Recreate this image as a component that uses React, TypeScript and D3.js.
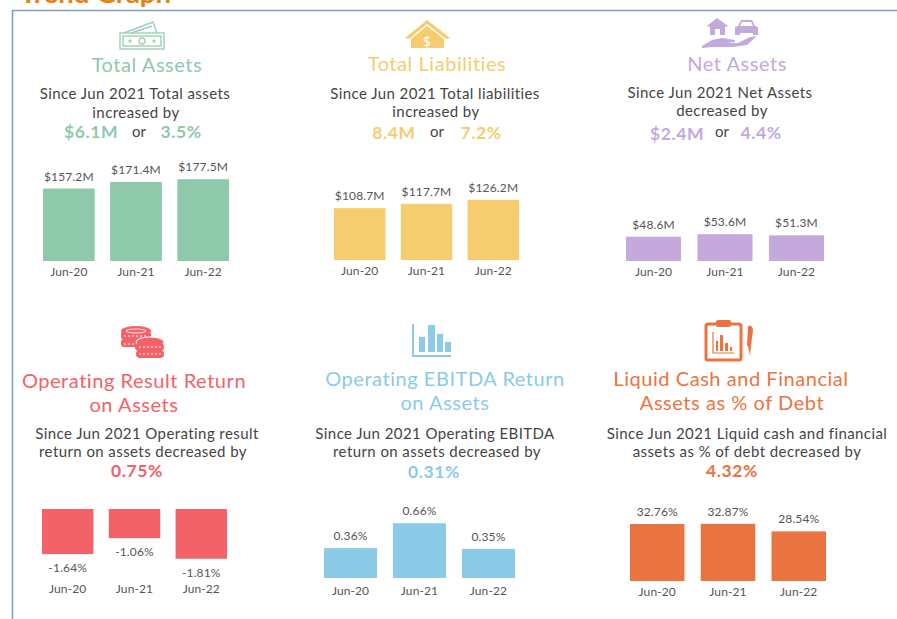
import React from "react";
import * as d3 from "d3";

const years = ["Jun-20", "Jun-21", "Jun-22"];

const totalAssets = [157.2, 171.4, 177.5];
const totalLiabilities = [108.7, 117.7, 126.2];
const netAssets = [48.6, 53.6, 51.3];
const operatingResult = [-1.64, -1.06, -1.81];
const operatingEbitda = [0.36, 0.66, 0.35];
const liquidCash = [32.76, 32.87, 28.54];

const money = (v: number) => `$${v.toFixed(1)}M`;
const pct = (v: number) => `${v.toFixed(2)}%`;

const GREEN = "#8fc9ab";
const YELLOW = "#f6cd6e";
const PURPLE = "#c3a9dc";
const RED = "#f26268";
const BLUE = "#8bcbe8";
const ORANGE = "#ea7440";
const TEXT = "#444444";
const LABEL = "#555555";

// x0/x1 outer edges of the bars, base = zero line, px = pixels per unit
const panels = [
  { values: totalAssets, color: GREEN, fmt: money, x0: 43, x1: 229, base: 261, px: 0.461, tickY: 275 },
  { values: totalLiabilities, color: YELLOW, fmt: money, x0: 334, x1: 519, base: 260, px: 0.477, tickY: 274 },
  { values: netAssets, color: PURPLE, fmt: money, x0: 626, x1: 824, base: 261, px: 0.5, tickY: 275 },
  { values: operatingResult, color: RED, fmt: pct, x0: 42, x1: 227, base: 509, px: 27.5, tickY: 592 },
  { values: operatingEbitda, color: BLUE, fmt: pct, x0: 324, x1: 515, base: 578, px: 83, tickY: 594 },
  { values: liquidCash, color: ORANGE, fmt: pct, x0: 630, x1: 826, base: 581, px: 1.74, tickY: 595 },
];

const titles = [
  { text: "Total Assets", x: 147, y: 72, color: GREEN },
  { text: "Total Liabilities", x: 437, y: 71, color: YELLOW },
  { text: "Net Assets", x: 737, y: 71, color: PURPLE },
  { text: "Operating Result Return", x: 134, y: 388, color: RED },
  { text: "on Assets", x: 134, y: 412, color: RED },
  { text: "Operating EBITDA Return", x: 445, y: 386, color: BLUE },
  { text: "on Assets", x: 445, y: 410, color: BLUE },
  { text: "Liquid Cash and Financial", x: 731, y: 386, color: ORANGE },
  { text: "Assets as % of Debt", x: 732, y: 410, color: ORANGE },
];

const notes = [
  { text: "Since Jun 2021 Total assets", x: 135, y: 99 },
  { text: "increased by", x: 136, y: 118 },
  { text: "Since Jun 2021 Total liabilities", x: 435, y: 99 },
  { text: "increased by", x: 436, y: 117 },
  { text: "Since Jun 2021 Net Assets", x: 720, y: 98 },
  { text: "decreased by", x: 722, y: 116 },
  { text: "Since Jun 2021 Operating result", x: 147, y: 439 },
  { text: "return on assets decreased by", x: 143, y: 457 },
  { text: "Since Jun 2021 Operating EBITDA", x: 435, y: 439 },
  { text: "return on assets decreased by", x: 437, y: 457 },
  { text: "Since Jun 2021 Liquid cash and financial", x: 747, y: 439 },
  { text: "assets as % of debt decreased by", x: 747, y: 457 },
];

const changes = [
  { text: "$6.1M", x: 91, y: 138, color: GREEN },
  { text: "3.5%", x: 181, y: 138, color: GREEN },
  { text: "8.4M", x: 394, y: 139, color: YELLOW },
  { text: "7.2%", x: 481, y: 139, color: YELLOW },
  { text: "$2.4M", x: 677, y: 140, color: PURPLE },
  { text: "4.4%", x: 761, y: 139, color: PURPLE },
  { text: "0.75%", x: 137, y: 477, color: RED },
  { text: "0.31%", x: 434, y: 478, color: BLUE },
  { text: "4.32%", x: 732, y: 477, color: ORANGE },
];

const orWords = [
  { x: 139, y: 137 },
  { x: 437, y: 137 },
  { x: 722, y: 137 },
];

const Icons = () => (
  <g>
    {/* banknotes */}
    <g fill="none" stroke={GREEN} strokeWidth={1.4} opacity={0.85}>
      <rect x={120} y={33} width={44} height={16} />
      <rect x={123} y={36} width={38} height={10} />
      <circle cx={142} cy={41} r={3} />
      <circle cx={130} cy={41} r={1} />
      <circle cx={154} cy={41} r={1} />
      <path d="M124,33 L153,22 L157,33 M131,33 L152,26" />
    </g>
    {/* house with dollar */}
    <g fill={YELLOW}>
      <path d="M405,38 L427,20 L450,38 L446,39 L427,24 L409,39 Z" />
      <path d="M411,39 L427,26 L444,39 L444,48 L411,48 Z" />
      <text x={427} y={47} textAnchor="middle" fontSize={14} fill="#fff" fontFamily="Open Sans">$</text>
    </g>
    {/* house, car and hand */}
    <g fill={PURPLE}>
      <path d="M707,26 L717,18 L728,26 L725,27 L725,35 L720,35 L720,29 L715,29 L715,35 L710,35 L710,27 Z" />
      <path fillRule="evenodd" d="M735,35 L735,27 L738,26 L741,20 L752,20 L755,26 L758,27 L758,35 L753,35 L753,33 L740,33 L740,35 Z M742,22 L740,26 L753,26 L751,22 Z" />
      <path d="M702,46 L712,40 L722,38 L735,40 L735,42 L727,43 L738,43 L750,37 L757,36 L747,45 L733,47 L712,47 L702,48 Z" />
    </g>
    {/* coins */}
    <g fill={RED}>
      <ellipse cx={136} cy={331} rx={15} ry={5} />
      <rect x={121} y={331} width={30} height={9} rx={4} />
      <rect x={121} y={339} width={30} height={8} rx={3} />
      <ellipse cx={150} cy={342} rx={14} ry={5} stroke="#fff" strokeWidth={1} />
      <rect x={135} y={343} width={29} height={8} rx={4} />
      <rect x={136} y={350} width={28} height={8} rx={4} />
      <ellipse cx={136} cy={331} rx={10} ry={2} fill="none" stroke="#fff" strokeWidth={0.8} />
      <path d="M124,336 H148 M124,344 H134 M139,347 H161 M139,354 H161" stroke="#fff" strokeWidth={1} strokeDasharray="2 2" />
    </g>
    {/* column chart */}
    <g fill={BLUE}>
      <path d="M413,324 V356 H451" fill="none" stroke={BLUE} strokeWidth={2} />
      <rect x={419} y={337} width={6} height={15} />
      <rect x={428} y={325} width={7} height={27} />
      <rect x={437} y={334} width={6} height={18} />
      <rect x={445} y={342} width={6} height={10} />
    </g>
    {/* clipboard with pen */}
    <g>
      <rect x={706} y={324} width={35} height={36} rx={2} fill="none" stroke={ORANGE} strokeWidth={3} />
      <rect x={716} y={320} width={15} height={7} rx={2} fill={ORANGE} />
      <path d="M713,332 V353 H734" fill="none" stroke={ORANGE} strokeWidth={1.2} />
      <path d="M716,341 h2 v10 h-2 Z M720,335 h3 v16 h-3 Z M725,343 h3 v8 h-3 Z M730,347 h2 v4 h-2 Z" fill={ORANGE} />
      <path d="M748,326 Q752,324 753,330 L751,346 L750,356 L748,346 L747,346 Z" fill={ORANGE} />
    </g>
  </g>
);

export default function App() {
  const svgRef = React.useRef<SVGSVGElement>(null);

  React.useEffect(() => {
    const svg = d3.select(svgRef.current);
    svg.selectAll("g.panel").remove();

    panels.forEach((p) => {
      const x = d3.scaleBand<string>().domain(years).range([p.x0, p.x1]).paddingInner(0.23);
      const ext = d3.max(p.values, (d) => Math.abs(d)) as number;
      const sign = (d3.min(p.values) as number) < 0 ? -1 : 1;
      const y = d3
        .scaleLinear()
        .domain([0, sign * ext])
        .range([p.base, p.base - sign * ext * p.px]);

      const g = svg.append("g").attr("class", "panel");

      g.selectAll("rect")
        .data(p.values)
        .enter()
        .append("rect")
        .attr("x", (_, i) => x(years[i]) as number)
        .attr("width", x.bandwidth())
        .attr("y", (d) => Math.min(y(d), y(0)))
        .attr("height", (d) => Math.abs(y(d) - y(0)))
        .attr("fill", p.color);

      g.selectAll("text.value")
        .data(p.values)
        .enter()
        .append("text")
        .attr("class", "value")
        .attr("x", (_, i) => (x(years[i]) as number) + x.bandwidth() / 2)
        .attr("y", (d) => (d < 0 ? y(d) + 18 : y(d) - 8))
        .attr("text-anchor", "middle")
        .attr("font-size", 12)
        .attr("letter-spacing", 0.15)
        .attr("fill", LABEL)
        .text((d) => (d < 0 ? "-" + p.fmt(-d) : p.fmt(d)));

      const axis = g
        .append("g")
        .attr("transform", `translate(0,${p.tickY - 11})`)
        .call(d3.axisBottom(x).tickSize(0).tickPadding(3));
      axis.select(".domain").remove();
      axis
        .selectAll("text")
        .attr("font-size", 12)
        .attr("letter-spacing", 0.1)
        .attr("font-family", "Lato")
        .attr("fill", LABEL);
    });
  }, []);

  return (
    <svg
      ref={svgRef}
      width={897}
      height={619}
      fontFamily="Lato"
      style={{ position: "absolute", left: 0, top: 0, background: "#fff" }}
    >
      <text x={20} y={3} fontSize={27.5} fontWeight={700} fill="#e5820f">
        Trend Graph
      </text>
      <path d="M897,10.5 H12.5 V619" fill="none" stroke="#7f9fc6" strokeWidth={1.6} />
      <Icons />
      {titles.map((t, i) => (
        <text key={i} x={t.x} y={t.y} textAnchor="middle" fontSize={20} letterSpacing={0.55} fill={t.color}>
          {t.text}
        </text>
      ))}
      {notes.map((t, i) => (
        <text key={i} x={t.x} y={t.y} textAnchor="middle" fontSize={15} letterSpacing={0.42} fill={TEXT}>
          {t.text}
        </text>
      ))}
      {changes.map((t, i) => (
        <text key={i} x={t.x} y={t.y} textAnchor="middle" fontSize={17.5} letterSpacing={0.6} fontWeight={700} fill={t.color}>
          {t.text}
        </text>
      ))}
      {orWords.map((t, i) => (
        <text key={i} x={t.x} y={t.y} textAnchor="middle" fontSize={15} fill={TEXT}>
          or
        </text>
      ))}
    </svg>
  );
}
